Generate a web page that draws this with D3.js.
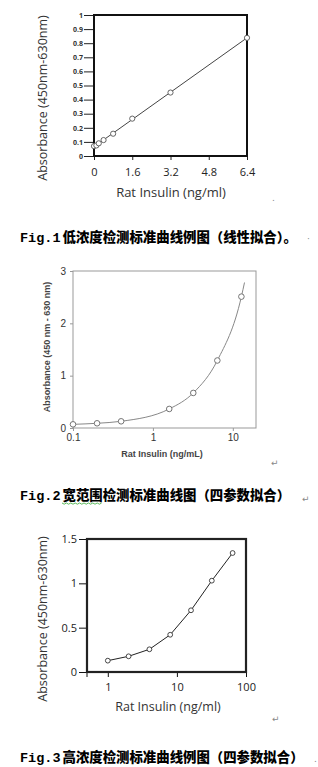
<!DOCTYPE html>
<html>
<head>
<meta charset="utf-8">
<script src="https://cdn.jsdelivr.net/npm/d3@7"></script>
<style>
  body { margin: 0; background: #fff; }
  svg { display: block; }
  .myriad { font-family: "Open Sans", "DejaVu Sans", sans-serif; }
  .arial { font-family: "Liberation Sans", Arial, sans-serif; }
  .caption { font-weight: bold; }
</style>
</head>
<body>
<div id="chart"></div>
<script>

// Fig.1 - low range, linear fit
var fig1_conc = [0, 0.1, 0.2, 0.4, 0.8, 1.6, 3.2, 6.4];
var fig1_abs = [0.07, 0.075, 0.09, 0.113, 0.158, 0.265, 0.45, 0.838];
var fig1_fit_conc = [0, 6.4];
var fig1_fit_abs = [0.066, 0.838];
var fig1_yticks = [0, 0.1, 0.2, 0.3, 0.4, 0.5, 0.6, 0.7, 0.8, 0.9, 1];
var fig1_xticks = [0, 1.6, 3.2, 4.8, 6.4];

// Fig.2 - wide range, 4 parameter fit
var fig2_conc = [0.1, 0.2, 0.4, 1.6, 3.2, 6.4, 12.8];
var fig2_abs = [0.07, 0.09, 0.128, 0.364, 0.67, 1.29, 2.51];
var fig2_fit_conc = [0.1, 0.2, 0.4, 1.6, 3.2, 6.4, 12.8, 14];
var fig2_fit_abs = [0.07, 0.09, 0.128, 0.364, 0.67, 1.29, 2.51, 2.78];
var fig2_yticks = [0, 1, 2, 3];
var fig2_xticks = [0.1, 1, 10];

// Fig.3 - high range, 4 parameter fit
var fig3_conc = [1, 2, 4, 8, 16, 32, 64];
var fig3_abs = [0.128, 0.177, 0.256, 0.42, 0.696, 1.03, 1.342];
var fig3_yticks = [0, 0.5, 1, 1.5];
var fig3_xticks = [1, 10, 100];

var caption_fig = ["Fig.1", "Fig.2", "Fig.3"];
var caption_text = [
  "低浓度检测标准曲线例图（线性拟合）。",
  "宽范围检测标准曲线图（四参数拟合）",
  "高浓度检测标准曲线例图（四参数拟合）"
];

var W = 318, H = 767;

var svg = d3.select("#chart").append("svg")
  .attr("width", W)
  .attr("height", H);

svg.append("rect").attr("width", W).attr("height", H).attr("fill", "#fff");

function zip(a, b) { return a.map(function(v, i) { return [v, b[i]]; }); }

// ---------- Fig.1 ----------
var g1 = svg.append("g").attr("class", "myriad");
var x1 = d3.scaleLinear().domain([0, 6.4]).range([94, 247]);
var y1 = d3.scaleLinear().domain([0, 1]).range([156, 15]);

var y1Axis = d3.axisLeft(y1).tickValues(fig1_yticks).tickSize(10).tickPadding(1)
  .tickFormat(function(d) { return d === 0 ? "0" : d3.format("")(d); });
g1.append("g").attr("transform", "translate(94,0)").call(y1Axis)
  .call(function(g) {
    g.select(".domain").remove();
    g.selectAll("line").attr("stroke", "#222");
    g.selectAll("text").attr("font-size", 7).attr("font-weight", "bold").attr("fill", "#333")
      .attr("font-family", "Open Sans, sans-serif");
  });

var x1Axis = d3.axisBottom(x1).tickValues(fig1_xticks).tickSize(4).tickPadding(8)
  .tickFormat(d3.format(""));
g1.append("g").attr("transform", "translate(0,156)").call(x1Axis)
  .call(function(g) {
    g.select(".domain").remove();
    g.selectAll("line").attr("stroke", "#222");
    g.selectAll("text").attr("font-size", 11).attr("fill", "#222")
      .attr("font-family", "Open Sans, sans-serif");
  });

g1.append("rect")
  .attr("x", x1(0)).attr("y", y1(1))
  .attr("width", x1(6.4) - x1(0)).attr("height", y1(0) - y1(1))
  .attr("fill", "none").attr("stroke", "#111").attr("stroke-width", 2);

var line1 = d3.line().x(function(d) { return x1(d[0]); }).y(function(d) { return y1(d[1]); });
g1.append("path")
  .attr("d", line1(zip(fig1_fit_conc, fig1_fit_abs)))
  .attr("fill", "none").attr("stroke", "#444").attr("stroke-width", 1);

g1.selectAll("circle.p1").data(zip(fig1_conc, fig1_abs)).enter()
  .append("circle").attr("class", "p1")
  .attr("cx", function(d) { return x1(d[0]); })
  .attr("cy", function(d) { return y1(d[1]); })
  .attr("r", 2.6)
  .attr("fill", "#fff").attr("stroke", "#555").attr("stroke-width", 0.9);

g1.append("text")
  .attr("x", 171).attr("y", 197)
  .attr("text-anchor", "middle").attr("font-size", 13).attr("fill", "#333")
  .text("Rat Insulin (ng/ml)");

g1.append("text")
  .attr("transform", "translate(47,98) rotate(-90)")
  .attr("text-anchor", "middle").attr("font-size", 12.5).attr("fill", "#333")
  .text("Absorbance (450nm-630nm)");

// ---------- Fig.2 ----------
var g2 = svg.append("g").attr("class", "arial");
var x2 = d3.scaleLog().domain([0.1, 19.5]).range([73, 256]);
var y2 = d3.scaleLinear().domain([0, 3]).range([428, 271]);

var y2Axis = d3.axisLeft(y2).tickValues(fig2_yticks).tickSize(3).tickPadding(4)
  .tickFormat(d3.format("d"));
g2.append("g").attr("transform", "translate(73,0)").call(y2Axis)
  .call(function(g) {
    g.select(".domain").remove();
    g.selectAll("line").attr("stroke", "#999");
    g.selectAll("text").attr("font-size", 10).attr("fill", "#333")
      .attr("font-family", "Liberation Sans, sans-serif");
  });

var x2Axis = d3.axisBottom(x2).tickValues(fig2_xticks).tickSize(3).tickPadding(3)
  .tickFormat(function(d) { return d; });
g2.append("g").attr("transform", "translate(0,428)").call(x2Axis)
  .call(function(g) {
    g.select(".domain").remove();
    g.selectAll("line").attr("stroke", "#999");
    g.selectAll("text").attr("font-size", 10).attr("fill", "#333")
      .attr("font-family", "Liberation Sans, sans-serif");
  });

g2.append("rect")
  .attr("x", 73).attr("y", 271)
  .attr("width", 256 - 73).attr("height", 428 - 271)
  .attr("fill", "none").attr("stroke", "#999").attr("stroke-width", 1);

var line2 = d3.line().curve(d3.curveMonotoneX)
  .x(function(d) { return x2(d[0]); }).y(function(d) { return y2(d[1]); });
g2.append("path")
  .attr("d", line2(zip(fig2_fit_conc, fig2_fit_abs)))
  .attr("fill", "none").attr("stroke", "#888").attr("stroke-width", 1);

g2.selectAll("circle.p2").data(zip(fig2_conc, fig2_abs)).enter()
  .append("circle").attr("class", "p2")
  .attr("cx", function(d) { return x2(d[0]); })
  .attr("cy", function(d) { return y2(d[1]); })
  .attr("r", 2.8)
  .attr("fill", "#fff").attr("stroke", "#666").attr("stroke-width", 0.9);

g2.append("text")
  .attr("x", 162).attr("y", 457)
  .attr("text-anchor", "middle").attr("font-size", 9).attr("font-weight", "bold").attr("fill", "#444")
  .text("Rat Insulin (ng/mL)");

g2.append("text")
  .attr("transform", "translate(50,347) rotate(-90)")
  .attr("text-anchor", "middle").attr("font-size", 9).attr("font-weight", "bold").attr("fill", "#444")
  .text("Absorbance (450 nm - 630 nm)");

// ---------- Fig.3 ----------
var g3 = svg.append("g").attr("class", "myriad");
var x3 = d3.scaleLog().domain([0.5, 100]).range([87, 246]);
var y3 = d3.scaleLinear().domain([0, 1.5]).range([672, 539]);

var y3Axis = d3.axisLeft(y3).tickValues(fig3_yticks).tickSize(8).tickPadding(2)
  .tickFormat(function(d) { return d; });
g3.append("g").attr("transform", "translate(87,0)").call(y3Axis)
  .call(function(g) {
    g.select(".domain").remove();
    g.selectAll("line").attr("stroke", "#111");
    g.selectAll("text").attr("font-size", 11).attr("fill", "#222")
      .attr("font-family", "Open Sans, sans-serif");
  });

var x3Axis = d3.axisBottom(x3).tickValues(fig3_xticks).tickSize(5).tickPadding(6)
  .tickFormat(function(d) { return d; });
g3.append("g").attr("transform", "translate(0,672)").call(x3Axis)
  .call(function(g) {
    g.select(".domain").remove();
    g.selectAll("line").attr("stroke", "#111");
    g.selectAll("text").attr("font-size", 11).attr("fill", "#222")
      .attr("font-family", "Open Sans, sans-serif");
  });
// left corner tick below frame
g3.append("line")
  .attr("x1", x3(0.5)).attr("x2", x3(0.5))
  .attr("y1", y3(0)).attr("y2", y3(0) + 5)
  .attr("stroke", "#111");

g3.append("rect")
  .attr("x", x3(0.5)).attr("y", y3(1.5))
  .attr("width", x3(100) - x3(0.5)).attr("height", y3(0) - y3(1.5))
  .attr("fill", "none").attr("stroke", "#222").attr("stroke-width", 2.2);

var line3 = d3.line().x(function(d) { return x3(d[0]); }).y(function(d) { return y3(d[1]); });
g3.append("path")
  .attr("d", line3(zip(fig3_conc, fig3_abs)))
  .attr("fill", "none").attr("stroke", "#222").attr("stroke-width", 1);

g3.selectAll("circle.p3").data(zip(fig3_conc, fig3_abs)).enter()
  .append("circle").attr("class", "p3")
  .attr("cx", function(d) { return x3(d[0]); })
  .attr("cy", function(d) { return y3(d[1]); })
  .attr("r", 2.4)
  .attr("fill", "#fff").attr("stroke", "#333").attr("stroke-width", 0.9);

g3.append("text")
  .attr("x", 168).attr("y", 711)
  .attr("text-anchor", "middle").attr("font-size", 12.5).attr("fill", "#333")
  .text("Rat Insulin (ng/ml)");

g3.append("text")
  .attr("transform", "translate(47,619) rotate(-90)")
  .attr("text-anchor", "middle").attr("font-size", 12.5).attr("fill", "#333")
  .text("Absorbance (450nm-630nm)");

// ---------- captions and paragraph marks ----------
var capY = [242, 500, 762];
var cap = svg.selectAll("text.caption").data(caption_text).enter()
  .append("text").attr("class", "caption")
  .attr("x", 20).attr("y", function(d, i) { return capY[i]; })
  .attr("fill", "#000");
cap.append("tspan")
  .attr("font-family", "Liberation Mono, monospace")
  .attr("font-size", 13.5)
  .text(function(d, i) { return caption_fig[i]; });
cap.append("tspan")
  .attr("dx", 2)
  .attr("font-family", "Noto Sans CJK SC, sans-serif")
  .attr("font-weight", 900)
  .attr("font-size", 13.4)
  .text(function(d) { return d; });

// green spell-check squiggle under 宽范围
svg.append("path")
  .attr("d", d3.range(0, 19).map(function(i) {
    return (i === 0 ? "M" : "L") + (62 + i * 2.2) + "," + (503 + (i % 2 ? 1.2 : 0));
  }).join(""))
  .attr("fill", "none").attr("stroke", "#3a3").attr("stroke-width", 0.8);

var marks = [
  {x: 272, y: 201, t: "."},
  {x: 271, y: 466, t: "↵"},
  {x: 272, y: 722, t: "↵"},
  {x: 307, y: 242, t: "·"},
  {x: 302, y: 502, t: "↵"},
  {x: 314, y: 762, t: "."}
];
svg.selectAll("text.mark").data(marks).enter()
  .append("text").attr("class", "mark")
  .attr("x", function(d) { return d.x; }).attr("y", function(d) { return d.y; })
  .attr("font-size", 9).attr("fill", "#888")
  .attr("font-family", "DejaVu Sans, sans-serif")
  .text(function(d) { return d.t; });

</script>
</body>
</html>
